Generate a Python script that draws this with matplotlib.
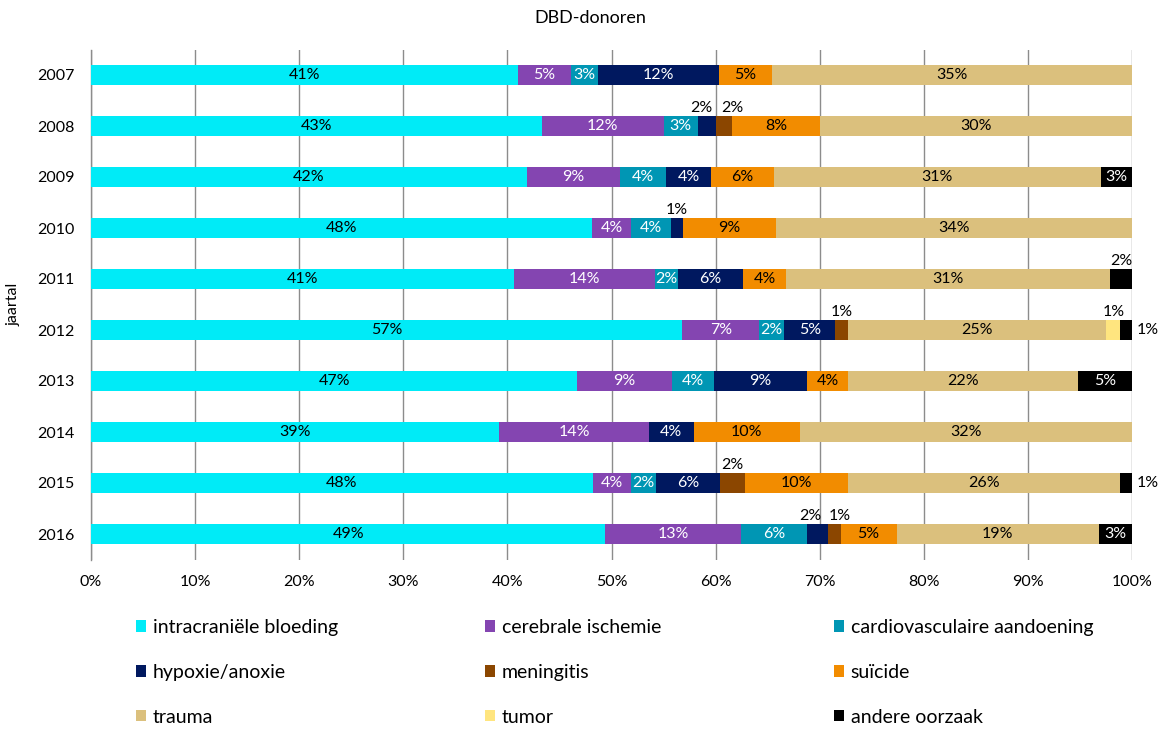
import matplotlib
matplotlib.use("Agg")
import matplotlib.pyplot as plt
import numpy as np

plt.rcParams['font.family'] = ['Lato', 'DejaVu Sans']

jaren = [2007, 2008, 2009, 2010, 2011, 2012, 2013, 2014, 2015, 2016]

# percentage DBD-donoren per doodsoorzaak, per jaar
intracranieel = [41.0, 43.3, 41.9, 48.1, 40.6, 56.8, 46.7, 39.2, 48.2, 49.4]
cerebraal = [5.1, 11.7, 8.9, 3.8, 13.6, 7.4, 9.1, 14.4, 3.7, 13.0]
cardiovasculair = [2.6, 3.3, 4.4, 3.8, 2.2, 2.4, 4.0, 0.0, 2.4, 6.4]
hypoxie = [11.6, 1.7, 4.4, 1.2, 6.2, 4.9, 9.0, 4.3, 6.1, 2.0]
meningitis = [0.0, 1.6, 0.0, 0.0, 0.0, 1.2, 0.0, 0.0, 2.4, 1.2]
suicide = [5.1, 8.4, 6.0, 8.9, 4.2, 0.0, 3.9, 10.2, 9.9, 5.4]
trauma = [34.6, 30.0, 31.4, 34.2, 31.1, 24.8, 22.1, 31.9, 26.1, 19.4]
tumor = [0.0, 0.0, 0.0, 0.0, 0.0, 1.3, 0.0, 0.0, 0.0, 0.0]
andere = [0.0, 0.0, 3.0, 0.0, 2.1, 1.2, 5.2, 0.0, 1.2, 3.2]

oorzaken = ['intracraniële bloeding', 'cerebrale ischemie', 'cardiovasculaire aandoening',
            'hypoxie/anoxie', 'meningitis', 'suïcide', 'trauma', 'tumor', 'andere oorzaak']
reeksen = [intracranieel, cerebraal, cardiovasculair, hypoxie, meningitis,
           suicide, trauma, tumor, andere]
kleuren = ['#00EBF7', '#8445B1', '#0096B4', '#00185F', '#8B4600',
           '#F28C00', '#DBC07D', '#FFE57F', '#000000']
tekstkleur = ['black', 'white', 'white', 'white', 'white',
              'black', 'black', 'black', 'white']

# kleine segmenten: label boven de balk of rechts ervan (verschuiving in pixels)
buiten = {
    (2008, 3): ('boven', -5), (2008, 4): ('boven', 8),
    (2010, 3): ('boven', 0),
    (2011, 8): ('boven', 0),
    (2012, 4): ('boven', 0), (2012, 7): ('boven', 1), (2012, 8): ('rechts', 5),
    (2015, 4): ('boven', 0), (2015, 8): ('rechts', 5),
    (2016, 3): ('boven', -7), (2016, 4): ('boven', 5),
}

W, H = 1164, 729
fig = plt.figure(figsize=(W / 100, H / 100), dpi=100)
ax = fig.add_axes([91 / W, 1 - 559.5 / H, (1132 - 91) / W, (559.5 - 49.5) / H])

y = np.arange(len(jaren))
hoogte = 0.39
links = np.zeros(len(jaren))
containers = []
for i, (naam, waarden) in enumerate(zip(oorzaken, reeksen)):
    waarden = np.array(waarden)
    bc = ax.barh(y, waarden, left=links, height=hoogte, color=kleuren[i],
                 linewidth=0, label=naam, zorder=3)
    containers.append(bc)
    for j, v in enumerate(waarden):
        if v <= 0:
            continue
        tekst = f"{v:.0f}%"
        midden = links[j] + v / 2
        plek = buiten.get((jaren[j], i))
        if plek is None:
            ax.text(midden, y[j], tekst, ha='center', va='center', fontsize=11.5,
                    color=tekstkleur[i], zorder=4)
        elif plek[0] == 'boven':
            ax.annotate(tekst, (midden, y[j] - hoogte / 2), xytext=(plek[1], 4),
                        textcoords='offset pixels', ha='center', va='baseline',
                        fontsize=11.5, color='black')
        else:
            ax.annotate(tekst, (links[j] + v, y[j]), xytext=(plek[1], 0),
                        textcoords='offset pixels', ha='left', va='center',
                        fontsize=11.5, color='black')
    links += waarden

ax.set_xlim(0, 100)
ax.set_ylim(len(jaren) - 0.5, -0.5)
ax.set_xticks(np.arange(0, 101, 10))
ax.set_xticklabels([f"{t}%" for t in range(0, 101, 10)])
ax.set_yticks(y)
ax.set_yticklabels([str(j) for j in jaren])
ax.tick_params(axis='both', length=0, labelsize=11.5)
ax.tick_params(axis='y', pad=12)
ax.tick_params(axis='x', pad=11)
ax.xaxis.grid(True, color='#8C8C8C', linewidth=1.0, zorder=0)
ax.set_axisbelow(True)
for kant in ['top', 'right', 'bottom']:
    ax.spines[kant].set_visible(False)
ax.spines['left'].set_color('#8C8C8C')
ax.spines['left'].set_linewidth(1.0)
ax.set_ylabel('jaartal', fontsize=11.5, labelpad=12)

fig.text(590 / W, 1 - 18 / H, 'DBD-donoren', ha='center', va='center', fontsize=13)

# legenda in drie kolommen
kolom_x = [136, 485, 834]
for k in range(3):
    items = [containers[i] for i in range(k, 9, 3)]
    namen = [oorzaken[i] for i in range(k, 9, 3)]
    fig.legend(items, namen, loc='upper left',
               bbox_to_anchor=(kolom_x[k] / W, 1 - 619 / H),
               frameon=False, fontsize=14, borderpad=0, borderaxespad=0,
               handlelength=0.52, handleheight=0.52, handletextpad=0.33,
               labelspacing=1.43)

fig.savefig('out.png', dpi=100)
